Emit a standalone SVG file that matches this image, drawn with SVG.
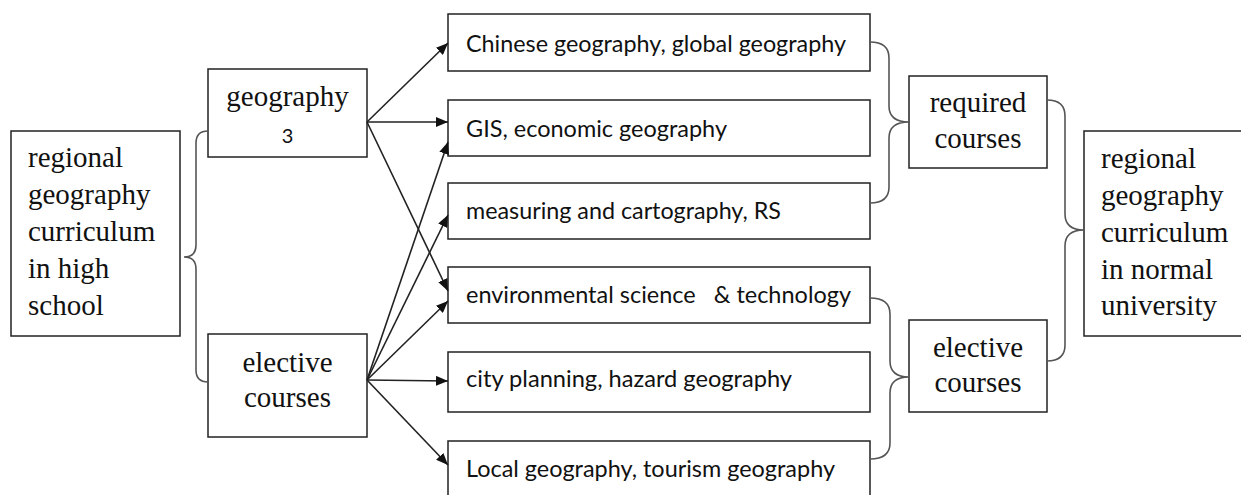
<svg xmlns="http://www.w3.org/2000/svg" width="1241" height="495" viewBox="0 0 1241 495">
<defs>
<marker id="ah" viewBox="0 0 12 10" refX="12" refY="5" markerWidth="12" markerHeight="10" markerUnits="userSpaceOnUse" orient="auto">
<path d="M0,0 L12,5 L0,10 Z" fill="#111"/>
</marker>
<style>
.box{fill:#fff;stroke:#222;stroke-width:1.5}
.serif{font-family:"Liberation Serif","Times New Roman",serif;font-size:29px;fill:#111}
.sans{font-family:"Lato","Open Sans",sans-serif;font-size:23px;fill:#111;white-space:pre}
.arrow{stroke:#222;stroke-width:1.6;fill:none;marker-end:url(#ah)}
.brace{stroke:#555;stroke-width:1.6;fill:none}
</style>
</defs>
<rect width="1241" height="495" fill="#fff"/>

<g id="hs">
<rect class="box" x="11" y="131" width="169" height="205"/>
<text class="serif" x="28" y="167">regional</text>
<text class="serif" x="28" y="204">geography</text>
<text class="serif" x="28" y="241">curriculum</text>
<text class="serif" x="28" y="278">in high</text>
<text class="serif" x="28" y="315">school</text>
</g>

<g id="geo3">
<rect class="box" x="208" y="69" width="159" height="88"/>
<text class="serif" x="287.5" y="106" text-anchor="middle">geography</text>
<text class="sans" x="287.5" y="143" text-anchor="middle" style="font-size:20px">3</text>
</g>

<g id="elec1">
<rect class="box" x="208" y="334" width="159" height="103"/>
<text class="serif" x="287.5" y="372" text-anchor="middle">elective</text>
<text class="serif" x="287.5" y="407" text-anchor="middle">courses</text>
</g>

<g id="c1">
<rect class="box" x="448" y="14" width="422" height="57"/>
<text class="sans" x="466" y="52" textLength="380" lengthAdjust="spacingAndGlyphs">Chinese geography, global geography</text>
</g>
<g id="c2">
<rect class="box" x="448" y="100" width="422" height="56"/>
<text class="sans" x="466" y="137" textLength="261" lengthAdjust="spacingAndGlyphs">GIS, economic geography</text>
</g>
<g id="c3">
<rect class="box" x="448" y="183" width="422" height="56"/>
<text class="sans" x="466" y="219" textLength="315" lengthAdjust="spacingAndGlyphs">measuring and cartography, RS</text>
</g>
<g id="c4">
<rect class="box" x="448" y="267" width="422" height="56"/>
<text class="sans" x="466" y="303" textLength="385" lengthAdjust="spacingAndGlyphs">environmental science   &amp; technology</text>
</g>
<g id="c5">
<rect class="box" x="448" y="352" width="422" height="60"/>
<text class="sans" x="466" y="387" textLength="326" lengthAdjust="spacingAndGlyphs">city planning, hazard geography</text>
</g>
<g id="c6">
<rect class="box" x="448" y="441" width="422" height="60"/>
<text class="sans" x="466" y="477" textLength="369" lengthAdjust="spacingAndGlyphs">Local geography, tourism geography</text>
</g>

<g id="req">
<rect class="box" x="909" y="76" width="138" height="92"/>
<text class="serif" x="978" y="112" text-anchor="middle">required</text>
<text class="serif" x="978" y="148" text-anchor="middle">courses</text>
</g>

<g id="elec2">
<rect class="box" x="909" y="320" width="138" height="92"/>
<text class="serif" x="978" y="357" text-anchor="middle">elective</text>
<text class="serif" x="978" y="392" text-anchor="middle">courses</text>
</g>

<g id="univ">
<rect class="box" x="1084" y="131" width="160" height="205"/>
<text class="serif" x="1101" y="168">regional</text>
<text class="serif" x="1101" y="205">geography</text>
<text class="serif" x="1101" y="242">curriculum</text>
<text class="serif" x="1101" y="279">in normal</text>
<text class="serif" x="1101" y="315">university</text>
</g>

<g id="connectors">
<path class="brace" d="M208,131 Q196,131 196,143 L196,245 Q196,257 184,257 Q196,257 196,269 L196,370 Q196,382 208,382"/>
<path class="brace" d="M870,42 Q889,42 889,58 L889,106 Q889,122 909,122 Q889,122 889,138 L889,187 Q889,203 870,203"/>
<path class="brace" d="M870,298 Q890,298 890,314 L890,361 Q890,377 909,377 Q890,377 890,393 L890,443 Q890,459 870,459"/>
<path class="brace" d="M1047,100 Q1065,100 1065,116 L1065,214 Q1065,230 1084,230 Q1065,230 1065,246 L1065,345 Q1065,361 1047,361"/>
<line class="arrow" x1="367" y1="122" x2="448" y2="43"/>
<line class="arrow" x1="367" y1="122" x2="448" y2="122"/>
<line class="arrow" x1="367" y1="122" x2="448" y2="291"/>
<line class="arrow" x1="367" y1="380" x2="448" y2="142"/>
<line class="arrow" x1="367" y1="380" x2="448" y2="215"/>
<line class="arrow" x1="367" y1="380" x2="448" y2="301"/>
<line class="arrow" x1="367" y1="380" x2="448" y2="381"/>
<line class="arrow" x1="367" y1="380" x2="448" y2="465"/>
</g>
</svg>
